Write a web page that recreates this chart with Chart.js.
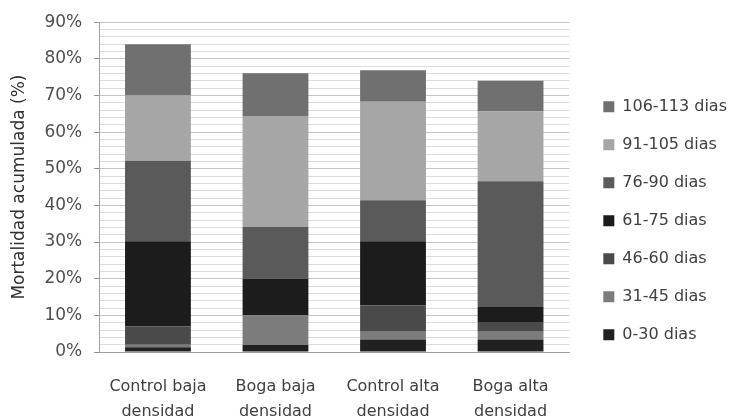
<!DOCTYPE html>
<html>
<head>
<meta charset="utf-8">
<script src="https://cdn.jsdelivr.net/npm/chart.js@4.4.0/dist/chart.umd.min.js"></script>
<style>
  html, body { margin: 0; padding: 0; background: #ffffff; }
  #wrap { width: 736px; height: 420px; position: relative; }
</style>
</head>
<body>
<div id="wrap"><canvas id="c" width="736" height="420"></canvas></div>
<script>
const categories = [["Control baja", "densidad"], ["Boga baja", "densidad"], ["Control alta", "densidad"], ["Boga alta", "densidad"]];
const seriesNames = ["0-30 dias", "31-45 dias", "46-60 dias", "61-75 dias", "76-90 dias", "91-105 dias", "106-113 dias"];
const d0_30    = [1.3, 1.9, 3.4, 3.4];
const d31_45   = [0.7, 8.1, 2.1, 2.1];
const d46_60   = [5.0, 0.0, 7.2, 2.7];
const d61_75   = [23.2, 10.0, 17.5, 4.1];
const d76_90   = [22.0, 14.2, 11.2, 34.3];
const d91_105  = [17.8, 30.2, 26.9, 19.0];
const d106_113 = [14.0, 11.7, 8.6, 8.4];
const yTicks = [0, 10, 20, 30, 40, 50, 60, 70, 80, 90];

const seriesValues = [d0_30, d31_45, d46_60, d61_75, d76_90, d91_105, d106_113];
const colors = ["#202020", "#7c7c7c", "#4a4a4a", "#1c1c1c", "#5a5a5a", "#a6a6a6", "#707070"];

const datasets = seriesNames.map((n, i) => ({
  label: n,
  data: seriesValues[i],
  backgroundColor: colors[i],
  borderWidth: 0,
  barPercentage: 0.56,
  categoryPercentage: 1.0
}));

const FONT = "'DejaVu Sans', sans-serif";
const LEGEND_PAD = 22;

// keep the legend at a fixed gap from the plot area, like the original
const legendShift = {
  id: 'legendShift',
  afterLayout(chart) {
    const lg = chart.legend;
    if (!lg) return;
    const dx = (chart.chartArea.right + 34) - (lg.left + LEGEND_PAD);
    lg.left += dx;
    lg.right += dx;
  }
};

new Chart(document.getElementById('c'), {
  type: 'bar',
  data: { labels: categories, datasets },
  plugins: [legendShift],
  options: {
    responsive: false,
    animation: false,
    devicePixelRatio: 1,
    layout: { padding: { top: 12, right: 11, bottom: 0, left: 9 } },
    plugins: {
      tooltip: { enabled: false },
      legend: {
        position: 'right',
        reverse: true,
        title: { display: true, text: ' ', font: { size: 8 }, padding: 0 },
        labels: {
          boxWidth: 11,
          boxHeight: 11,
          padding: LEGEND_PAD,
          color: '#404040',
          font: { family: FONT, size: 16 }
        }
      }
    },
    scales: {
      x: {
        stacked: true,
        afterFit: (scale) => { scale.height = 68; },
        grid: { display: false, drawTicks: false, tickLength: 0 },
        border: { display: true, color: '#a0a0a0' },
        ticks: {
          color: '#404040',
          font: { family: FONT, size: 16, lineHeight: 1.5625 },
          padding: 22,
          maxRotation: 0
        }
      },
      y: {
        stacked: true,
        min: 0,
        max: 90,
        afterBuildTicks: (axis) => {
          const t = [];
          for (let v = 0; v <= 90; v += 2) t.push({ value: v });
          axis.ticks = t;
        },
        grid: {
          color: (ctx) => (ctx.tick && yTicks.includes(ctx.tick.value)) ? '#c4c4c4' : '#dcdcdc',
          tickColor: (ctx) => (ctx.tick && yTicks.includes(ctx.tick.value)) ? '#909090' : 'rgba(0,0,0,0)',
          tickLength: 5
        },
        border: { display: true, color: '#a0a0a0' },
        ticks: {
          color: '#505050',
          font: { family: FONT, size: 17 },
          padding: 12,
          autoSkip: false,
          callback: (v) => yTicks.includes(v) ? v + '%' : ''
        },
        title: {
          display: true,
          text: 'Mortalidad acumulada (%)',
          color: '#303030',
          font: { family: FONT, size: 17 },
          padding: { top: 0, bottom: 3 }
        }
      }
    }
  }
});
</script>
</body>
</html>
